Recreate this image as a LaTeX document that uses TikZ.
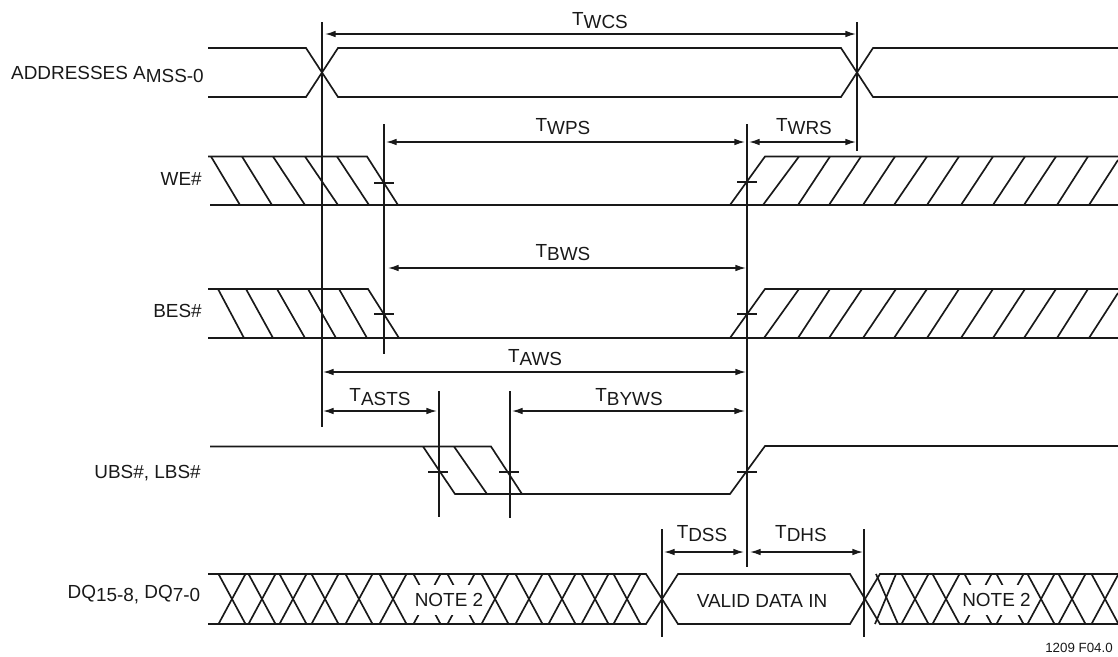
\documentclass[tikz,border=0pt]{standalone}
\usepackage{fontspec}
\setmainfont{Liberation Sans}
\usetikzlibrary{arrows.meta}
\usetikzlibrary{positioning}
\newcommand{\lsub}[2]{#1\raisebox{-2.8pt}{#2}}
\tikzset{wave/.style={line width=1.25pt,black!90,line join=miter}}
\tikzset{mark line/.style={line width=1.4pt,black!90}}
\tikzset{dim/.style={line width=1pt,black!90,{Latex[length=8pt,width=5pt]}-{Latex[length=8pt,width=5pt]}}}
\tikzset{lab/.style={font=\fontsize{14.2}{16}\selectfont,black!90,inner sep=0pt,anchor=base}}
\tikzset{sig/.style={font=\fontsize{14.2}{16}\selectfont,black!90,inner sep=0pt,anchor=base east}}
\tikzset{note/.style={font=\fontsize{14.2}{16}\selectfont,black!90,fill=white,inner sep=0pt,minimum width=51pt,minimum height=23pt}}
\begin{document}
\begin{tikzpicture}[x=0.75pt,y=-0.75pt]
\useasboundingbox (0,0) rectangle (1118,657);

% signal names
\node[sig] (addr) at (204,79) {ADDRESSES \lsub{A}{MSS-0}};
\node[sig] (we) at (202,185.5) {WE\#};
\node[sig] (bes) at (202,317.5) {BES\#};
\node[sig] (ubs) at (201,478) {UBS\#, LBS\#};
\node[sig] (dq) at (200.5,598) {\lsub{DQ}{15-8,} \lsub{DQ}{7-0}};

% addresses
\draw[wave] (208,48) -- (306,48) -- (338,97) -- (841,97) -- (873,48) -- (1118,48);
\draw[wave] (208,97) -- (306,97) -- (338,48) -- (841,48) -- (873,97) -- (1118,97);

% WE#
\draw[wave] (208,156.5) -- (367,156.5) -- (398,205);
\draw[wave] (210,205) -- (730,205) -- (765,156.5) -- (1118,156.5);
\draw[wave] (730,205) -- (1118,205);
\foreach \t/\b in {211/240,242/272,273/305,305/338,337/369}{
  \draw[wave] (\t,156.5) -- (\b,205);
}
\foreach \b/\t in {763/799,798/830,829/861,863/895,894/927,927/959,961/993,993/1025,1024/1056,1057/1088}{
  \draw[wave] (\b,205) -- (\t,156.5);
}
\draw[wave] (1089,205) -- (1118,160);
\draw[wave] (374,183) -- (394,183);
\draw[wave] (737,182) -- (757,182);

% BES#
\draw[wave] (208,289) -- (368,289) -- (399,338);
\draw[wave] (208,338) -- (730,338) -- (765,289) -- (1118,289);
\draw[wave] (730,338) -- (1118,338);
\foreach \t/\b in {218/244,246/273,277/305,308/336,339/367}{
  \draw[wave] (\t,289) -- (\b,338);
}
\foreach \b/\t in {764/799,798/830,829/862,863/896,894/927,927/959,961/993,993/1025,1024/1056,1057/1088}{
  \draw[wave] (\b,338) -- (\t,289);
}
\draw[wave] (1089,338) -- (1118,293);
\draw[wave] (374,314) -- (394,314);
\draw[wave] (737,314) -- (757,314);

% UBS#, LBS#
\draw[wave] (210,446.5) -- (491,446.5) -- (522,494);
\draw[wave] (423,446.5) -- (455,494) -- (730,494) -- (765,446) -- (1118,446);
\draw[wave] (454,446.5) -- (487,494);
\draw[wave] (428,472) -- (448,472);
\draw[wave] (499,472) -- (519,472);
\draw[wave] (737,472) -- (757,472);

% DQ
\draw[wave] (208,574) -- (646,574) -- (678,624) -- (850,624) -- (880,574) -- (1118,574);
\draw[wave] (208,624) -- (646,624) -- (678,574) -- (850,574) -- (880,624) -- (1118,624);
\foreach \c in {232,262,293,325,359,393,427,461,495,529,562,595,627,915,946,978,1010,1041,1072,1105}{
  \draw[wave] (\c-13.5,574) -- (\c+13.5,624);
  \draw[wave] (\c+13.5,574) -- (\c-13.5,624);
}
\draw[wave] (876,574) -- (898,624);
\draw[wave] (896,574) -- (875,624);
\node[note] (n1) at (449,600) {NOTE 2};
\node[note] (n2) at (996.5,600) {NOTE 2};
\node[inner sep=0pt,font=\fontsize{14.2}{16}\selectfont,black!90] (valid) at (762,601) {VALID DATA IN};

% marker lines
\foreach \n/\x/\a/\b in {A/322/22/427,B/857/22/151,C/384/124/354,D/747/124/567,E/439/391/517,F/510/391/518,G/662/529/637,H/864/529/637}{
  \coordinate (\n1) at (\x,\a);
  \coordinate (\n2) at (\x,\b);
  \draw[mark line] (\n1) -- (\n2);
}

% timings
\draw[dim] (325,34) -- (856,34);
\draw[dim] (386,142) -- (745,142);
\draw[dim] (749,142) -- (856,142);
\draw[dim] (388,268) -- (746,268);
\draw[dim] (323,372) -- (746,372);
\draw[dim] (323,411) -- (437,411);
\draw[dim] (512,411) -- (745,411);
\draw[dim] (664,552) -- (744,552);
\draw[dim] (750,552) -- (863,552);
\node[lab] (wcs) at (600,25) {\lsub{T}{WCS}};
\node[lab] (wps) at (563,131) {\lsub{T}{WPS}};
\node[lab] (wrs) at (804,131) {\lsub{T}{WRS}};
\node[lab] (bws) at (563,257) {\lsub{T}{BWS}};
\node[lab] (aws) at (535,362) {\lsub{T}{AWS}};
\node[lab] (asts) at (380,401.5) {\lsub{T}{ASTS}};
\node[lab] (byws) at (629,401.5) {\lsub{T}{BYWS}};
\node[lab] (dss) at (702,538) {\lsub{T}{DSS}};
\node[lab] (dhs) at (801,538) {\lsub{T}{DHS}};

\node[inner sep=0pt,anchor=base east,font=\fontsize{10}{12}\selectfont,black!90] (fig) at (1113,652) {1209 F04.0};
\end{tikzpicture}
\end{document}
